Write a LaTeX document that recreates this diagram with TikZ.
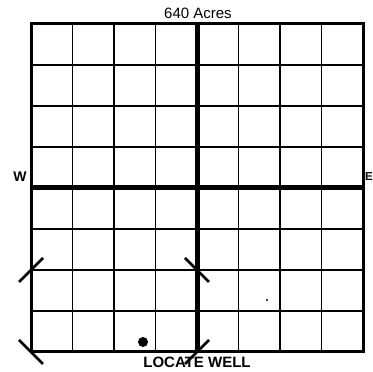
\documentclass[tikz,border=0pt]{standalone}
\usepackage{fontspec}
\setmainfont{Liberation Sans}

\begin{document}
\begin{tikzpicture}[
  x=1pt,y=1pt,
  gridline/.style={line width=1.2pt},
  border/.style={line width=3pt},
  centreline/.style={line width=5pt},
  cornermark/.style={line width=2.8pt},
  label/.style={inner sep=0pt,font=\fontsize{15}{18}\selectfont},
  compass/.style={inner sep=0pt,font=\fontsize{14}{16}\selectfont\bfseries}
]
  \useasboundingbox (0,0) rectangle (373,372);

  % section, 8 x 8 quarter-quarters
  \draw[gridline,xstep=41.5pt,ystep=41pt,shift={(31,20)}] (0,0) grid (332,328);
  \draw[centreline] (197,20) -- (197,348);
  \draw[centreline] (31,184) -- (363,184);
  \draw[border] (31,20) rectangle (363,348);

  % marks on the S/2 of the SW/4
  \draw[cornermark] (19,90) -- (43,114);
  \draw[cornermark] (19,32) -- (43,8);
  \draw[cornermark] (185,114) -- (209,90);
  \draw[cornermark] (185,8) -- (209,32);

  \fill (143,30) circle (5);
  \fill (267,72) circle (1.2);

  \node[label] (title) at (198,359) {640 Acres};
  \node[label,font=\fontsize{15}{18}\selectfont\bfseries] (locate) at (197,10) {LOCATE WELL};
  \node[compass] (west) at (20,195) {W};
  \node[compass,font=\fontsize{11.5}{14}\selectfont\bfseries,anchor=east] (east) at (373,195) {E};
\end{tikzpicture}
\end{document}
